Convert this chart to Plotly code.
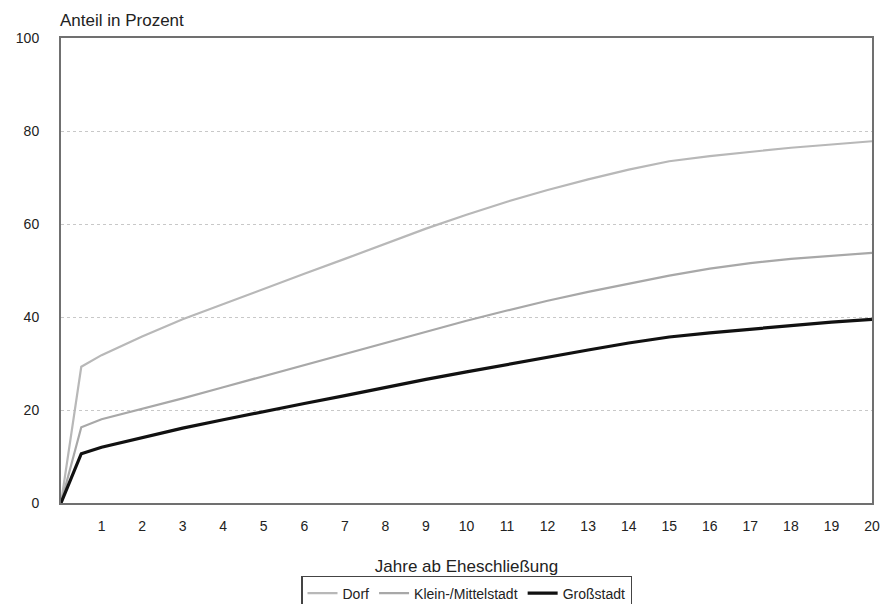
import plotly.graph_objects as go

years = [0, 0.5, 1, 2, 3, 4, 5, 6, 7, 8, 9, 10, 11, 12, 13, 14, 15, 16, 17, 18, 19, 20]
dorf = [0, 29.3, 31.8, 35.8, 39.5, 42.8, 46.0, 49.3, 52.5, 55.8, 59.0, 62.0, 64.8, 67.3, 69.6, 71.7, 73.5, 74.6, 75.5, 76.4, 77.1, 77.8]
klein = [0, 16.3, 18.0, 20.2, 22.5, 24.9, 27.3, 29.7, 32.1, 34.5, 36.9, 39.2, 41.4, 43.5, 45.4, 47.2, 48.9, 50.4, 51.6, 52.5, 53.2, 53.8]
gross = [0, 10.6, 12.0, 14.0, 16.1, 17.9, 19.7, 21.4, 23.1, 24.9, 26.6, 28.2, 29.8, 31.4, 32.9, 34.4, 35.7, 36.6, 37.4, 38.2, 38.9, 39.5]
series_names = ["Dorf", "Klein-/Mittelstadt", "Großstadt"]
x_ticks = list(range(1, 21))
y_ticks = [0, 20, 40, 60, 80, 100]

font = "Liberation Sans, Arial, sans-serif"

fig = go.Figure()
fig.add_trace(go.Scatter(x=years, y=dorf, name=series_names[0], mode="lines",
                         line=dict(color="#b8b8b8", width=2.2)))
fig.add_trace(go.Scatter(x=years, y=klein, name=series_names[1], mode="lines",
                         line=dict(color="#a8a8a8", width=2.2)))
fig.add_trace(go.Scatter(x=years, y=gross, name=series_names[2], mode="lines",
                         line=dict(color="#111111", width=3.2)))

fig.update_layout(
    width=887, height=596,
    margin=dict(l=53, r=23, t=30, b=101),
    paper_bgcolor="white", plot_bgcolor="white",
    font=dict(family=font, size=14, color="#222"),
    showlegend=True,
    legend=dict(orientation="h", x=0.5, xanchor="center",
                yref="container", y=0.047, yanchor="top",
                bordercolor="#444", borderwidth=1.5, font=dict(size=14),
                itemwidth=30, tracegroupgap=0),
    xaxis=dict(range=[0, 20], tickvals=x_ticks, ticktext=[str(t) for t in x_ticks],
               automargin=False,
               showgrid=False, zeroline=False,
               showline=True, mirror=True, linecolor="#707070", linewidth=2,
               ticks="outside", ticklen=9, tickcolor="rgba(0,0,0,0)",
               tickfont=dict(size=14),
               title=dict(text="Jahre ab Eheschließung", standoff=29, font=dict(size=17))),
    yaxis=dict(range=[0, 100], tickvals=y_ticks,
               automargin=False,
               showgrid=True, gridcolor="#c8c8c8", griddash="dot", gridwidth=1.3,
               zeroline=False,
               showline=True, mirror=True, linecolor="#707070", linewidth=2,
               ticks="outside", ticklen=17, tickcolor="rgba(0,0,0,0)",
               tickfont=dict(size=14)),
    annotations=[dict(text="Anteil in Prozent", xref="paper", yref="paper",
                      x=0, y=1, xanchor="left", yanchor="bottom", yshift=6, xshift=-3,
                      showarrow=False, font=dict(size=17))],
)

fig.write_html("out.html")
